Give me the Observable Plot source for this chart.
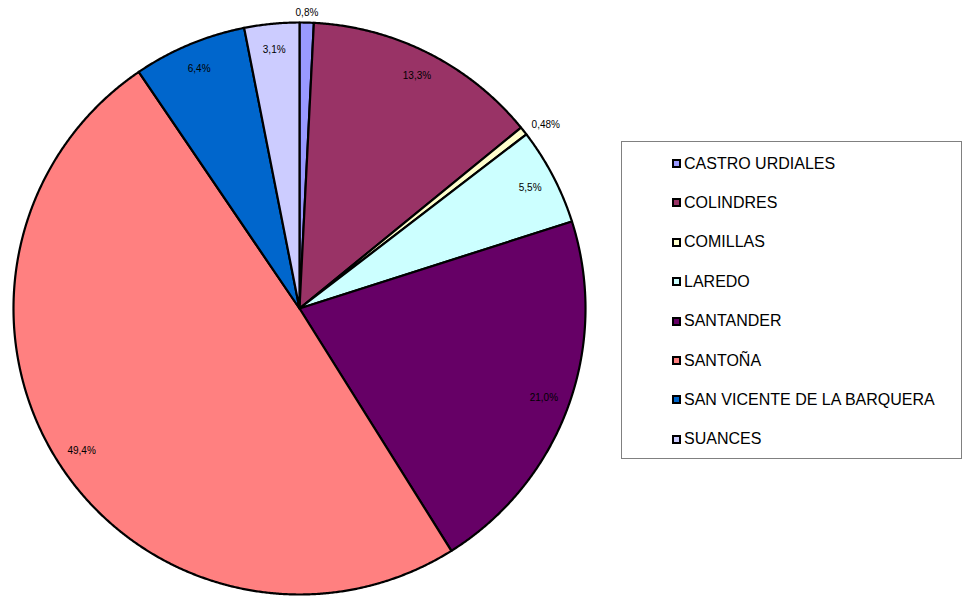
<!DOCTYPE html>
<html>
<head>
<meta charset="utf-8">
<script src="https://cdn.jsdelivr.net/npm/d3@7"></script>
<script src="https://cdn.jsdelivr.net/npm/@observablehq/plot@0.6"></script>
<style>
  body { margin: 0; background: #fff; font-family: Arial, "Liberation Sans", sans-serif; }
  #wrap { position: relative; width: 976px; height: 599px; }
  #legend { position: absolute; left: 621px; top: 141px; width: 341px; height: 318px; border: 1px solid #808080; box-sizing: border-box; }
  .item { position: absolute; left: 50px; display: flex; align-items: center; font-size: 16px; color: #000; white-space: nowrap; }
  .sw { width: 5px; height: 5px; border: 2px solid #000; margin-right: 3px; }
</style>
</head>
<body>
<div id="wrap"></div>
<script>
const names = ["CASTRO URDIALES", "COLINDRES", "COMILLAS", "LAREDO", "SANTANDER", "SANTOÑA", "SAN VICENTE DE LA BARQUERA", "SUANCES"];
const values = [0.8, 13.3, 0.48, 5.5, 21.0, 49.4, 6.4, 3.1];
const labels = ["0,8%", "13,3%", "0,48%", "5,5%", "21,0%", "49,4%", "6,4%", "3,1%"];
const colors = ["#9999FF", "#993366", "#FFFFCC", "#CCFFFF", "#660066", "#FF8080", "#0066CC", "#CCCCFF"];

const arcs = d3.pie().sort(null).value(d => d)(values);

// slice outlines (unit circle geometry)
const poly = [];
arcs.forEach((a, i) => {
  poly.push({name: names[i], x: 0, y: 0});
  const n = Math.max(2, Math.ceil((a.endAngle - a.startAngle) / 0.005));
  for (let k = 0; k <= n; k++) {
    const t = a.startAngle + (a.endAngle - a.startAngle) * k / n;
    poly.push({name: names[i], x: Math.sin(t), y: Math.cos(t)});
  }
});

const lab = arcs.map((a, i) => {
  const m = (a.startAngle + a.endAngle) / 2;
  const outside = values[i] < 1;
  const r = outside ? 1.035 : 0.91;
  return {
    text: labels[i],
    x: r * Math.sin(m),
    y: r * Math.cos(m),
    anchor: outside && Math.sin(m) > 0.3 ? "start" : "middle"
  };
});

const chart = Plot.plot({
  width: 976,
  height: 599,
  marginLeft: 13,
  marginRight: 391,
  marginTop: 22,
  marginBottom: 5,
  x: {domain: [-1, 1], axis: null},
  y: {domain: [-1, 1], axis: null},
  color: {domain: names, range: colors},
  style: {fontFamily: "Arial, 'Liberation Sans', sans-serif", background: "#fff"},
  marks: [
    Plot.line(poly, {x: "x", y: "y", z: "name", fill: "name", stroke: "#000", strokeWidth: 2.2, curve: "linear-closed", strokeLinejoin: "round"}),
    Plot.text(lab.filter(d => d.anchor === "middle"), {x: "x", y: "y", text: "text", fontSize: 10, fill: "#000"}),
    Plot.text(lab.filter(d => d.anchor === "start"), {x: "x", y: "y", text: "text", fontSize: 10, fill: "#000", textAnchor: "start"})
  ]
});
const wrap = document.getElementById("wrap");
wrap.appendChild(chart);

const legend = document.createElement("div");
legend.id = "legend";
names.forEach((n, i) => {
  const it = document.createElement("div");
  it.className = "item";
  it.style.top = (21.5 + i * 39.4 - 10) + "px";
  it.style.height = "20px";
  const sw = document.createElement("div");
  sw.className = "sw";
  sw.style.background = colors[i];
  it.appendChild(sw);
  const tx = document.createElement("span");
  tx.textContent = n;
  it.appendChild(tx);
  legend.appendChild(it);
});
wrap.appendChild(legend);
</script>
</body>
</html>
